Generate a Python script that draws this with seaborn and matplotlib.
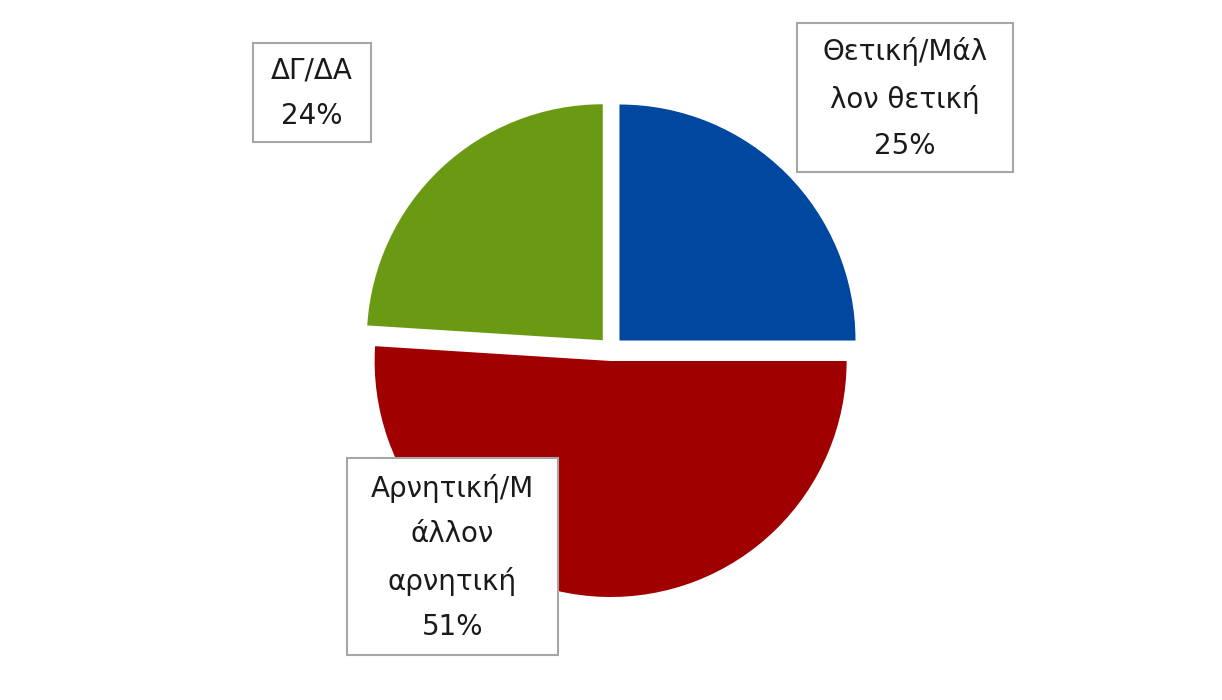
import matplotlib
matplotlib.use("Agg")
import matplotlib.pyplot as plt
from matplotlib.patches import Rectangle
import seaborn as sns

categories = ["Θετική/Μάλλον θετική", "Αρνητική/Μάλλον αρνητική", "ΔΓ/ΔΑ"]
values = [25, 51, 24]
label_texts = ["Θετική/Μάλ\nλον θετική\n25%", "Αρνητική/Μ\nάλλον\nαρνητική\n51%", "ΔΓ/ΔΑ\n24%"]
colors = ["#0047A0", "#A00000", "#6A9A14"]

sns.set_theme(style="white")
plt.rcParams['font.family'] = ['DejaVu Sans']

W, H = 1222, 700
fig = plt.figure(figsize=(W / 100, H / 100), dpi=100)
ax = fig.add_axes([0, 0, 1, 1])

ax.pie(values, colors=colors, startangle=90, counterclock=False,
       explode=[12] * len(values), center=(611, H - 349), radius=236,
       wedgeprops=dict(linewidth=0), frame=True)
ax.set_xlim(0, W)
ax.set_ylim(0, H)
ax.set_aspect('equal')
ax.axis('off')

# label boxes: (x0, y0, x1, y1) in pixel coords (top-left origin)
boxes = [(797, 23, 1013, 172), (347, 458, 558, 655), (253, 43, 371, 142)]
for txt, (x0, y0, x1, y1) in zip(label_texts, boxes):
    ax.add_patch(Rectangle((x0, H - y1), x1 - x0, y1 - y0, facecolor="white",
                           edgecolor="#A6A6A6", linewidth=1.5, zorder=3))
    ax.text((x0 + x1) / 2, H - (y0 + y1) / 2 - 1, txt, ha="center", va="center",
            fontsize=20, color="#1a1a1a", linespacing=1.8, zorder=4)

fig.savefig("out.png", dpi=100)
